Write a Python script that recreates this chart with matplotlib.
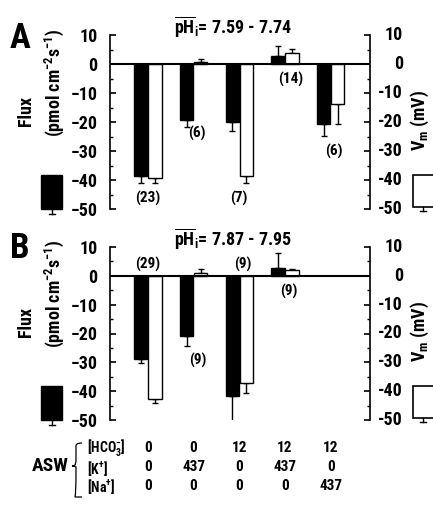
import matplotlib
matplotlib.use('Agg')
import matplotlib.pyplot as plt
import numpy as np
from matplotlib import font_manager
from matplotlib.patches import Rectangle, PathPatch
from matplotlib.lines import Line2D
from matplotlib.path import Path
from matplotlib.transforms import blended_transform_factory

available = {f.name for f in font_manager.fontManager.ttflist}
candidates = ['Roboto Condensed', 'Nimbus Sans Narrow', 'Liberation Sans Narrow', 'Arial Narrow',
              'Archivo Narrow', 'Liberation Sans']
FONT = next(c for c in candidates if c in available)

plt.rcParams['font.family'] = [FONT, 'DejaVu Sans']
plt.rcParams['font.weight'] = 'bold'
plt.rcParams['mathtext.fontset'] = 'custom'
plt.rcParams['mathtext.rm'] = FONT + ':bold'
plt.rcParams['mathtext.it'] = FONT + ':bold'
plt.rcParams['mathtext.bf'] = FONT + ':bold'

# ---- data ----
conditions = [0, 1, 2, 3, 4]
fluxA = [-38.5, -19.3, -20.1, 2.8, -20.7]
fluxA_err = [2.6, 2.3, 2.9, 3.5, 4.1]
vmA = [-39.4, 0.8, -38.5, 3.7, -13.8]
vmA_err = [1.5, 0.9, 2.4, 1.4, 6.9]
nA = ['(23)', '(6)', '(7)', '(14)', '(6)']
nA_y = [-46.3, -24.0, -46.3, -5.3, -30.2]

fluxB = [-28.9, -20.8, -41.6, 2.7, np.nan]
fluxB_err = [1.4, 3.5, 9.6, 5.2, np.nan]
vmB = [-42.7, 0.9, -37.3, 1.9, np.nan]
vmB_err = [1.3, 1.5, 3.2, 0.4, np.nan]
nB = ['(29)', '(9)', '(9)', '(9)']
nB_y = [3.8, -29.2, 3.8, -5.4]

hco3 = ['0', '0', '12', '12', '12']
kplus = ['0', '437', '0', '437', '0']
naplus = ['0', '0', '0', '0', '437']
yticks = [10, 0, -10, -20, -30, -40, -50]

W, H = 433, 525
fig = plt.figure(figsize=(W / 100, H / 100), dpi=100)

def fx(px):
    return px / W

def fy(py):
    return 1 - py / H

bw = 0.29
off = 0.155
TICK_FS = 13


def draw_panel(ax, flux, ferr, vm, verr):
    x = np.array(conditions, dtype=float)
    flux = np.array(flux); ferr = np.array(ferr)
    vm = np.array(vm); verr = np.array(verr)
    ax.bar(x - off, flux, width=bw, color='black', edgecolor='black', linewidth=1, zorder=2)
    ax.bar(x + off, vm, width=bw, color='white', edgecolor='black', linewidth=1, zorder=2)
    for xs, vals, errs in ((x - off, flux, ferr), (x + off, vm, verr)):
        for xi, v, e in zip(xs, vals, errs):
            if np.isnan(v):
                continue
            yerr = [[e], [0]] if v < 0 else [[0], [e]]
            ax.errorbar([xi], [v], yerr=yerr, fmt='none', ecolor='black',
                        elinewidth=1, capsize=2.5, capthick=1, zorder=1)
    ax.axhline(0, color='black', linewidth=1.5, zorder=3)
    ax.set_xlim(-0.83, 4.86)
    ax.set_ylim(-50, 10)
    ax.set_yticks(yticks)
    ax.set_yticks(np.arange(-45, 10, 10), minor=True)
    ax.set_xticks([])
    for s in ('top', 'bottom'):
        ax.spines[s].set_visible(False)
    ax.spines['left'].set_linewidth(1.2)
    ax.spines['right'].set_linewidth(1.2)
    ax.tick_params(axis='y', which='major', direction='in', length=4, width=1.2,
                   labelsize=TICK_FS, pad=9, left=True, right=True, labelleft=True, labelright=False)
    ax.tick_params(axis='y', which='minor', direction='in', length=2.5, width=1,
                   left=True, right=True)
    for lab in ax.get_yticklabels():
        lab.set_fontweight('bold')
    # right-hand (Vm) tick labels, right aligned
    trr = blended_transform_factory(fig.transFigure, ax.transData)
    for t in yticks:
        ax.text(fx(403), t, str(t), transform=trr, ha='right', va='center',
                fontsize=TICK_FS, fontweight='bold', clip_on=False)


axA = fig.add_axes([fx(110), fy(209), fx(370) - fx(110), fy(35) - fy(209)])
draw_panel(axA, fluxA, fluxA_err, vmA, vmA_err)
nA_x = [0, 1.07, 1.98, 3.13, 4.08]
for xi, yi, t in zip(nA_x, nA_y, nA):
    axA.text(xi, yi, t, ha='center', va='center', fontsize=11, fontweight='bold')

axB = fig.add_axes([fx(110), fy(420), fx(370) - fx(110), fy(247) - fy(420)])
draw_panel(axB, fluxB, fluxB_err, vmB, vmB_err)
nB_x = [0, 1.1, 2.08, 3.08]
for xi, yi, t in zip(nB_x, nB_y, nB):
    axB.text(xi, yi, t, ha='center', va='center', fontsize=11, fontweight='bold')

# titles and panel letters
fig.text(fx(233), fy(27), r'$\overline{\mathrm{pH}}_\mathrm{i}$= 7.59 - 7.74', ha='center', va='center',
         fontsize=13, fontweight='bold')
fig.text(fx(233), fy(239), r'$\overline{\mathrm{pH}}_\mathrm{i}$= 7.87 - 7.95', ha='center', va='center',
         fontsize=13, fontweight='bold')
fig.text(fx(20), fy(39), 'A', ha='center', va='center', fontsize=25, fontweight='bold')
fig.text(fx(20), fy(248), 'B', ha='center', va='center', fontsize=25, fontweight='bold')

# axis labels and legend keys
for dy in (0, 211):
    fig.text(fx(26), fy(111 + dy), 'Flux', rotation=90, ha='center', va='center',
             fontsize=13, fontweight='bold')
    fig.text(fx(54), fy(83 + dy), r'(pmol cm$^{-2}$s$^{-1}$)', rotation=90, ha='center', va='center',
             fontsize=13, fontweight='bold')
    fig.text(fx(420), fy(120 + dy), r'V$_\mathrm{m}$ (mV)', rotation=90, ha='center', va='center',
             fontsize=13, fontweight='bold')
    # black key
    fig.add_artist(Rectangle((fx(41), fy(209 + dy)), fx(62) - fx(41), fy(175 + dy) - fy(209 + dy),
                             transform=fig.transFigure, facecolor='black', edgecolor='black'))
    fig.add_artist(Line2D([fx(52), fx(52)], [fy(209 + dy), fy(214 + dy)], transform=fig.transFigure,
                          color='black', linewidth=1))
    fig.add_artist(Line2D([fx(49), fx(55)], [fy(214 + dy), fy(214 + dy)], transform=fig.transFigure,
                          color='black', linewidth=1))
    # white key
    fig.add_artist(Rectangle((fx(413), fy(207 + dy)), fx(440) - fx(413), fy(175 + dy) - fy(207 + dy),
                             transform=fig.transFigure, facecolor='white', edgecolor='black', linewidth=1.2))
    fig.add_artist(Line2D([fx(423), fx(423)], [fy(207 + dy), fy(211 + dy)], transform=fig.transFigure,
                          color='black', linewidth=1))
    fig.add_artist(Line2D([fx(420), fx(426)], [fy(211 + dy), fy(211 + dy)], transform=fig.transFigure,
                          color='black', linewidth=1))

# composition table
tr = blended_transform_factory(axB.transData, fig.transFigure)
rows_y = [448, 467, 486]
for vals, py in zip((hco3, kplus, naplus), rows_y):
    for xi, v in zip(conditions, vals):
        fig.text(xi, fy(py), v, transform=tr, ha='center', va='center', fontsize=11, fontweight='bold')
fig.text(fx(87), fy(447), r'[HCO$_3^{-}$]', ha='left', va='center', fontsize=10, fontweight='bold')
fig.text(fx(87), fy(468), r'[K$^{+}$]', ha='left', va='center', fontsize=10, fontweight='bold')
fig.text(fx(87), fy(487), r'[Na$^{+}$]', ha='left', va='center', fontsize=10, fontweight='bold')
fig.text(fx(50), fy(466), 'ASW', ha='center', va='center', fontsize=14, fontweight='bold')

# brace
bx0, bx1, bmid = 72, 82, 466
top, bot = 443, 497
verts = [(bx1, top), (bx0 + 3, top), (bx0 + 4, top + 4), (bx0 + 4, bmid - 6),
         (bx0 + 4, bmid - 1), (bx0 + 2, bmid), (bx0, bmid),
         (bx0 + 2, bmid), (bx0 + 4, bmid + 1), (bx0 + 4, bmid + 6),
         (bx0 + 4, bot - 4), (bx0 + 3, bot), (bx1, bot)]
codes = [Path.MOVETO, Path.CURVE3, Path.CURVE3, Path.LINETO,
         Path.CURVE3, Path.CURVE3, Path.LINETO,
         Path.CURVE3, Path.CURVE3, Path.LINETO,
         Path.CURVE3, Path.CURVE3, Path.LINETO]
verts_f = [(fx(a), fy(b)) for a, b in verts]
fig.add_artist(PathPatch(Path(verts_f, codes), transform=fig.transFigure, facecolor='none',
                         edgecolor='black', linewidth=0.9))

fig.savefig('out.png', dpi=100)
